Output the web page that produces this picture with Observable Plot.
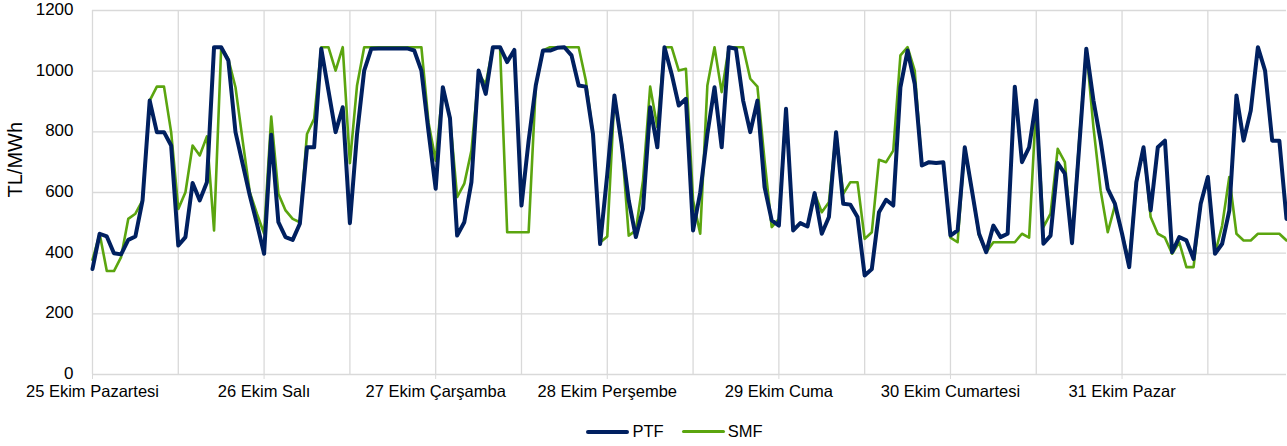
<!DOCTYPE html>
<html>
<head>
<meta charset="utf-8">
<script src="https://cdn.jsdelivr.net/npm/d3@7"></script>
<script src="https://cdn.jsdelivr.net/npm/@observablehq/plot@0.6"></script>
<style>
  html, body { margin: 0; padding: 0; background: #fff; }
  body { width: 1287px; height: 446px; overflow: hidden; font-family: "Liberation Sans", Arial, sans-serif; }
  #legend { position: absolute; top: 422px; left: 0; width: 1287px; display: flex; justify-content: center; align-items: center; font-size: 16.5px; color: #000; padding-left: 62px; box-sizing: border-box; }
  .item { display: flex; align-items: center; margin: 0 9px; }
  .sw { width: 43px; margin-right: 3px; border-radius: 2px; }
</style>
</head>
<body>
<div id="chart"></div>
<div id="legend"></div>
<script>
const dayLabels = ["25 Ekim Pazartesi", "26 Ekim Salı", "27 Ekim Çarşamba", "28 Ekim Perşembe", "29 Ekim Cuma", "30 Ekim Cumartesi", "31 Ekim Pazar"];
const seriesNames = ["PTF", "SMF"];
const seriesColors = ["#002060", "#5ba50f"];
const yTicks = [0, 200, 400, 600, 800, 1000, 1200];

const ptf = [
  348, 464, 455, 400, 396, 444, 455, 574, 903, 799, 799, 755, 425, 453, 631, 574, 634, 1079, 1079, 1035, 799, 695, 590, 497,
  398, 790, 502, 453, 444, 497, 749, 749, 1074, 936, 799, 881, 499, 793, 1002, 1074, 1075, 1075, 1075, 1075, 1075, 1068, 1002, 800,
  612, 947, 845, 458, 502, 634, 1002, 925, 1079, 1079, 1030, 1070, 557, 771, 953, 1068, 1068, 1077, 1079, 1052, 953, 949, 793, 430,
  660, 920, 760, 574, 453, 546, 881, 749, 1079, 991, 887, 909, 475, 600, 793, 947, 749, 1079, 1074, 903, 799, 903, 618, 508,
  491, 876, 475, 499, 488, 598, 464, 519, 799, 563, 560, 519, 326, 348, 535, 576, 557, 947, 1068, 958, 689, 700, 697, 700,
  458, 475, 749, 607, 464, 403, 491, 453, 464, 949, 700, 749, 903, 431, 458, 697, 662, 433, 749, 1074, 903, 771, 612, 563,
  464, 354, 634, 749, 541, 749, 771, 403, 453, 442, 381, 563, 651, 398, 431, 540, 920, 771, 870, 1079, 1002, 771, 771, 513
];
const smf = [
  378, 464, 341, 341, 387, 513, 530, 574, 903, 949, 949, 799, 546, 601, 755, 722, 785, 475, 1079, 1040, 947, 771, 601, 530,
  465, 850, 596, 541, 513, 502, 793, 843, 1079, 1079, 1002, 1079, 697, 953, 1079, 1079, 1079, 1079, 1079, 1079, 1079, 1079, 1079, 830,
  705, 947, 848, 585, 629, 738, 991, 958, 1079, 1079, 469, 469, 469, 469, 953, 1068, 1079, 1079, 1079, 1079, 1079, 969, 793, 435,
  455, 915, 771, 458, 475, 640, 949, 815, 1079, 1079, 1002, 1008, 574, 464, 953, 1079, 931, 1079, 1079, 1079, 975, 949, 705, 486,
  513, 876, 475, 499, 488, 598, 535, 568, 799, 596, 634, 634, 447, 469, 708, 700, 738, 1052, 1079, 1002, 689, 700, 697, 700,
  451, 436, 749, 607, 458, 403, 436, 436, 436, 436, 464, 451, 898, 486, 530, 744, 700, 433, 771, 1074, 815, 607, 469, 557,
  464, 370, 640, 749, 519, 464, 451, 398, 436, 354, 354, 563, 651, 398, 491, 651, 464, 442, 442, 464, 464, 464, 464, 442
];

const rows = [];
ptf.forEach((v, i) => rows.push({hour: i, value: v, series: "PTF"}));
smf.forEach((v, i) => rows.push({hour: i, value: v, series: "SMF"}));

const dayTicks = dayLabels.map((_, k) => k * 24);
const halfDayTicks = d3.range(0, 168, 12);

const chart = Plot.plot({
  width: 1287,
  height: 408,
  marginLeft: 92,
  marginRight: 1,
  marginTop: 10,
  marginBottom: 34,
  style: {fontFamily: "'Liberation Sans', Arial, sans-serif", fontSize: "16.5px", color: "#000", background: "#fff"},
  x: {domain: [0, 167], axis: null},
  y: {domain: [0, 1200], axis: null},
  color: {domain: seriesNames, range: seriesColors},
  marks: [
    Plot.ruleY(yTicks, {y: d => d, stroke: "#d9d9d9", strokeWidth: 1.3}),
    Plot.ruleX(halfDayTicks, {x: d => d, stroke: "#d9d9d9", strokeWidth: 1.3}),
    Plot.axisY(yTicks, {tickSize: 0, tickPadding: 19, fontSize: "17px", fill: "#000", label: null, tickFormat: d => String(d), dy: -1}),
    Plot.axisX(dayTicks, {tickSize: 5, stroke: "#d9d9d9", tickPadding: 6, fontSize: "16.5px", fill: "#000", label: null, tickFormat: d => dayLabels[d / 24]}),
    Plot.text(["TL/MWh"], {frameAnchor: "left", dx: -77, dy: 5, rotate: -90, fontSize: "20px", fill: "#000"}),
    Plot.line(rows.filter(d => d.series === "SMF"), {x: "hour", y: "value", stroke: "series", strokeWidth: 2.6, strokeLinejoin: "round"}),
    Plot.line(rows.filter(d => d.series === "PTF"), {x: "hour", y: "value", stroke: "series", strokeWidth: 4, strokeLinejoin: "round"})
  ]
});
document.getElementById("chart").appendChild(chart);

const legend = document.getElementById("legend");
seriesNames.forEach((name, i) => {
  const item = document.createElement("div");
  item.className = "item";
  const sw = document.createElement("div");
  sw.className = "sw";
  sw.style.height = (i === 0 ? 4 : 3) + "px";
  sw.style.background = seriesColors[i];
  const label = document.createElement("span");
  label.textContent = name;
  item.appendChild(sw);
  item.appendChild(label);
  legend.appendChild(item);
});
</script>
</body>
</html>
